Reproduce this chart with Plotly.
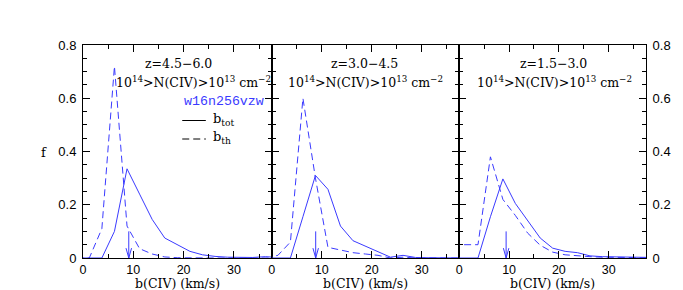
import plotly.graph_objects as go

# ---------------- data ----------------
b_bins = [-1.25, 1.25, 3.75, 6.25, 8.75, 11.25, 13.75, 16.25, 18.75, 21.25,
          23.75, 26.25, 28.75, 31.25, 33.75, 36.25, 38.75]

# z = 4.5 - 6.0
f_tot_z45_60 = [0, 0, 0, 0.10, 0.335, 0.24, 0.145, 0.075, 0.05, 0.025,
                0.012, 0.006, 0.003, 0.002, 0.002, 0.005, 0.002]
f_th_z45_60 = [0, 0, 0.11, 0.72, 0.12, 0.035, 0.015, 0.004, 0.001, 0,
               0, 0, 0, 0, 0, 0, 0]

# z = 3.0 - 4.5
f_tot_z30_45 = [0, 0, 0, 0.155, 0.31, 0.258, 0.12, 0.065, 0.045, 0.025,
                0.003, 0.01, 0.002, 0.001, 0.001, 0.002, 0]
f_th_z30_45 = [0, 0.01, 0.06, 0.60, 0.30, 0.04, 0.03, 0.02, 0.015, 0.01,
               0.0, 0.003, 0, 0, 0, 0, 0]

# z = 1.5 - 3.0
f_tot_z15_30 = [0, 0, 0, 0.155, 0.297, 0.205, 0.14, 0.075, 0.037, 0.025,
                0.02, 0.008, 0.005, 0.004, 0.003, 0.003, 0.002]
f_th_z15_30 = [0.05, 0.05, 0.05, 0.38, 0.22, 0.16, 0.093, 0.048, 0.022, 0.012,
               0.008, 0.005, 0.003, 0.002, 0.001, 0.001, 0.001]

mean_b = [9.1, 8.8, 9.4]          # arrow positions (km/s)
arrow_top = 0.1                    # arrow start (f)

panel_titles = ["z=4.5\u22126.0", "z=3.0\u22124.5", "z=1.5\u22123.0"]
column_label = "10<sup>14</sup>>N(CIV)>10<sup>13</sup> cm<sup>\u22122</sup>"
model_name = "w16n256vzw"
legend_labels = ["b<sub>tot</sub>", "b<sub>th</sub>"]
x_title = "b(CIV) (km/s)"
y_title = "f"
x_ticks = [0, 10, 20, 30]
y_ticks = [0, 0.2, 0.4, 0.6, 0.8]

tot_series = [f_tot_z45_60, f_tot_z30_45, f_tot_z15_30]
th_series = [f_th_z45_60, f_th_z30_45, f_th_z15_30]

# ---------------- layout geometry ----------------
W, H = 683, 290
L, R, T, B = 83, 27, 45, 32
PW, PH = W - L - R, H - T - B
edges_px = [83, 275, 466, 656]
domains = [[(edges_px[i] - L) / PW, (edges_px[i + 1] - L) / PW] for i in range(3)]
domains[-1][1] = 1.0


def px_x(px):
    return (px - L) / PW


def px_y(py):
    return (H - B - py) / PH


BLUE = "#3a3aff"
SERIF = "DejaVu Serif"
SANS = "Liberation Sans"
MONO = "Liberation Mono"
DASH = "7px,4px"

fig = go.Figure()

for i in range(3):
    xa = "x" if i == 0 else f"x{i+1}"
    ya = "y" if i == 0 else f"y{i+1}"
    fig.add_trace(go.Scatter(x=b_bins, y=tot_series[i], mode="lines",
                             line=dict(color=BLUE, width=1), xaxis=xa, yaxis=ya,
                             showlegend=False, hoverinfo="skip"))
    fig.add_trace(go.Scatter(x=b_bins, y=th_series[i], mode="lines",
                             line=dict(color=BLUE, width=1, dash=DASH), xaxis=xa, yaxis=ya,
                             showlegend=False, hoverinfo="skip"))
    m = mean_b[i]
    fig.add_trace(go.Scatter(x=[m, m, None, m - 0.55, m, m + 0.55],
                             y=[arrow_top, 0, None, 0.037, 0, 0.037], mode="lines",
                             line=dict(color=BLUE, width=1), xaxis=xa, yaxis=ya,
                             showlegend=False, hoverinfo="skip"))

xtickfont = dict(family=SANS, size=12.5, color="black")
ytickfont = dict(family=SANS, size=13, color="black")
for i in range(3):
    xkey = "xaxis" if i == 0 else f"xaxis{i+1}"
    ykey = "yaxis" if i == 0 else f"yaxis{i+1}"
    xa_anchor = "y" if i == 0 else f"y{i+1}"
    ya_anchor = "x" if i == 0 else f"x{i+1}"
    fig.layout[xkey] = dict(domain=domains[i], anchor=xa_anchor, range=[0, 37.5],
                            showline=True, linecolor="black", linewidth=1, mirror="allticks",
                            ticks="inside", ticklen=7, tickcolor="black", tickwidth=1,
                            tickvals=x_ticks, ticktext=[str(v) for v in x_ticks],
                            minor=dict(dtick=5, tick0=0, ticks="inside", ticklen=4,
                                       tickcolor="black", showgrid=False),
                            showgrid=False, zeroline=False, tickfont=xtickfont)
    fig.layout[ykey] = dict(domain=[0, 1], anchor=ya_anchor, range=[0, 0.8],
                            showline=True, linecolor="black", linewidth=1, mirror="allticks",
                            ticks="inside", ticklen=7, tickcolor="black", tickwidth=1,
                            tickvals=y_ticks, ticktext=["0", "0.2", "0.4", "0.6", "0.8"],
                            minor=dict(dtick=0.05, tick0=0, ticks="inside", ticklen=4,
                                       tickcolor="black", showgrid=False),
                            showgrid=False, zeroline=False, tickfont=ytickfont,
                            ticklabelstandoff=3,
                            showticklabels=(i != 1),
                            side=("right" if i == 2 else "left"))

annotations = []
title_centers = [(180, 195), (370, 370.5), (562, 562.5)]
for i in range(3):
    annotations.append(dict(text=panel_titles[i], x=px_x(title_centers[i][0]), y=px_y(64),
                            xref="paper", yref="paper", showarrow=False,
                            xanchor="center", yanchor="middle",
                            font=dict(family=SERIF, size=12.5, color="black")))
    annotations.append(dict(text=column_label, x=px_x(title_centers[i][1]), y=px_y(82),
                            xref="paper", yref="paper", showarrow=False,
                            xanchor="center", yanchor="middle",
                            font=dict(family=SERIF, size=12.5, color="black")))
    annotations.append(dict(text=x_title, x=px_x((edges_px[i] + edges_px[i + 1]) / 2),
                            y=px_y(283), xref="paper", yref="paper", showarrow=False,
                            xanchor="center", yanchor="middle",
                            font=dict(family=SERIF, size=12.5, color="black")))

annotations.append(dict(text=y_title, x=px_x(43), y=px_y(152), xref="paper", yref="paper",
                        showarrow=False, xanchor="center", yanchor="middle",
                        font=dict(family=SERIF, size=13, color="black")))
annotations.append(dict(text=model_name, x=px_x(184), y=px_y(101), xref="paper", yref="paper",
                        showarrow=False, xanchor="left", yanchor="middle",
                        font=dict(family=MONO, size=13.3, color=BLUE)))
annotations.append(dict(text=legend_labels[0], x=px_x(213), y=px_y(119), xref="paper",
                        yref="paper", showarrow=False, xanchor="left", yanchor="middle",
                        font=dict(family=SERIF, size=13, color="black")))
annotations.append(dict(text=legend_labels[1], x=px_x(213), y=px_y(137), xref="paper",
                        yref="paper", showarrow=False, xanchor="left", yanchor="middle",
                        font=dict(family=SERIF, size=13, color="black")))

shapes = [
    dict(type="line", xref="paper", yref="paper", x0=px_x(184), x1=px_x(208),
         y0=px_y(120.5), y1=px_y(120.5), line=dict(color="black", width=1)),
    dict(type="line", xref="paper", yref="paper", x0=px_x(184), x1=px_x(208),
         y0=px_y(139), y1=px_y(139), line=dict(color="black", width=1, dash=DASH)),
]

fig.update_layout(width=W, height=H, margin=dict(l=L, r=R, t=T, b=B),
                  paper_bgcolor="white", plot_bgcolor="white",
                  annotations=annotations, shapes=shapes, showlegend=False)

fig.write_html("out.html", config={"displayModeBar": False},
               post_script="document.body.style.margin='0';document.body.style.padding='0';")
